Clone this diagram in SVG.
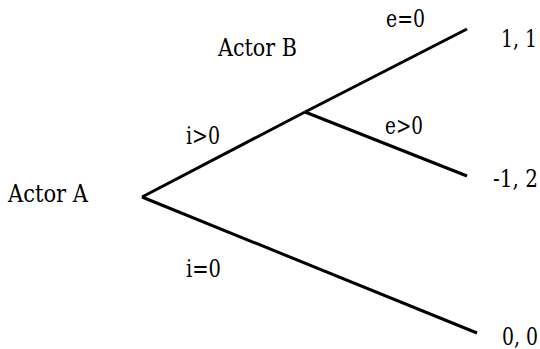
<svg xmlns="http://www.w3.org/2000/svg" width="540" height="349" viewBox="0 0 540 349">
<style>
.t{font-family:'DejaVu Serif',serif;font-size:24px;fill:#000}
.r{text-anchor:end}
.e{stroke:#000;stroke-width:3;fill:none;stroke-linecap:butt;stroke-linejoin:miter}
</style>
<rect width="540" height="349" fill="#fff"/>
<g id="connectors">
<path class="e" d="M142,197 L305,112"/>
<path class="e" d="M305,112 L467,29"/>
<path class="e" d="M305,112 L467,176"/>
<path class="e" d="M142,197 L477,333"/>
<text class="t" x="186" y="144" textLength="34" lengthAdjust="spacingAndGlyphs">i&gt;0</text>
<text class="t" x="186" y="277" textLength="35" lengthAdjust="spacingAndGlyphs">i=0</text>
<text class="t" x="386" y="27" textLength="39" lengthAdjust="spacingAndGlyphs">e=0</text>
<text class="t" x="385" y="134" textLength="38" lengthAdjust="spacingAndGlyphs">e&gt;0</text>
</g>
<g id="actorA"><text class="t" x="8" y="202" textLength="80" lengthAdjust="spacingAndGlyphs">Actor A</text></g>
<g id="actorB"><text class="t" x="218" y="56" textLength="79" lengthAdjust="spacingAndGlyphs">Actor B</text></g>
<g id="payoff11"><text class="t r" x="537" y="47" textLength="36" lengthAdjust="spacingAndGlyphs">1, 1</text></g>
<g id="payoff12"><text class="t r" x="538" y="187" textLength="45" lengthAdjust="spacingAndGlyphs">-1, 2</text></g>
<g id="payoff00"><text class="t r" x="538" y="345" textLength="36" lengthAdjust="spacingAndGlyphs">0, 0</text></g>
</svg>
